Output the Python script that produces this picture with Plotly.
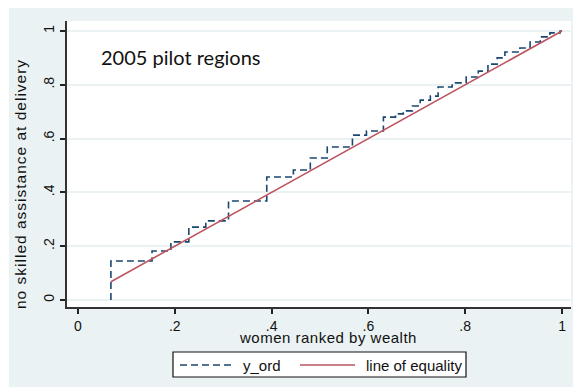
import plotly.graph_objects as go

# Concentration curve: cumulative share of women with no skilled assistance,
# women ranked by wealth (step points where the curve rises)
rank = [0.068, 0.068, 0.153, 0.192, 0.229, 0.264, 0.311, 0.390, 0.445, 0.480,
        0.515, 0.567, 0.596, 0.631, 0.656, 0.672, 0.691, 0.707, 0.728, 0.744,
        0.773, 0.802, 0.827, 0.847, 0.866, 0.882, 0.913, 0.934, 0.955, 0.975,
        0.996, 1.000]
y_ord = [0.000, 0.145, 0.182, 0.216, 0.271, 0.294, 0.368, 0.457, 0.483, 0.528,
         0.569, 0.613, 0.628, 0.680, 0.692, 0.703, 0.721, 0.743, 0.758, 0.792,
         0.807, 0.829, 0.851, 0.877, 0.900, 0.922, 0.937, 0.959, 0.978, 0.993,
         1.000, 1.000]

equality_x = [0.068, 1.0]
equality_y = [0.068, 1.0]

tick_vals = [0, 0.2, 0.4, 0.6, 0.8, 1]
tick_text = ["0", ".2", ".4", ".6", ".8", "1"]

series_names = ["y_ord", "line of equality"]

W, H = 573, 389
L, R, T, B = 67, 2, 21, 82
pw, ph = W - L - R, H - T - B

def px_to_paper_x(px):
    return (px - L) / pw

def px_to_paper_y(py):
    return (H - B - py) / ph

def spaced(text, px):
    return f'<span style="letter-spacing:{px}px">{text}</span>'

region = "#eaf2f3"
navy = "#1a476f"
maroon = "#bd5560"
dash_style = "7px,4px"
text_font = dict(family="Liberation Sans, Arial, sans-serif", size=15, color="#111111")
tick_font = dict(family="Liberation Sans, Arial, sans-serif", size=14, color="#111111")

fig = go.Figure()
fig.add_trace(go.Scatter(
    x=rank, y=y_ord, mode="lines", name=series_names[0],
    line=dict(shape="hv", color=navy, width=1.6, dash=dash_style),
))
fig.add_trace(go.Scatter(
    x=equality_x, y=equality_y, mode="lines", name=series_names[1],
    line=dict(color=maroon, width=1.6),
))

# legend box drawn as a key below the plot region
key_y = px_to_paper_y(365)
shapes = [
    # graph region background
    dict(type="rect", xref="paper", yref="paper", layer="below",
         x0=px_to_paper_x(9), x1=px_to_paper_x(573),
         y0=px_to_paper_y(387), y1=px_to_paper_y(8),
         fillcolor=region, line=dict(width=0)),
    # plot region
    dict(type="rect", xref="paper", yref="paper", layer="below",
         x0=0, x1=1, y0=0, y1=1,
         fillcolor="white", line=dict(width=0)),
    # key frame
    dict(type="rect", xref="paper", yref="paper",
         x0=px_to_paper_x(173), x1=px_to_paper_x(466),
         y0=px_to_paper_y(377), y1=px_to_paper_y(352),
         fillcolor="white", line=dict(color="#111111", width=1.2)),
    dict(type="line", xref="paper", yref="paper",
         x0=px_to_paper_x(180), x1=px_to_paper_x(234), y0=key_y, y1=key_y,
         line=dict(color=navy, width=1.6, dash=dash_style)),
    dict(type="line", xref="paper", yref="paper",
         x0=px_to_paper_x(300), x1=px_to_paper_x(355), y0=key_y, y1=key_y,
         line=dict(color=maroon, width=1.6)),
]

annotations = [
    dict(text="2005 pilot regions", xref="paper", yref="paper",
         x=px_to_paper_x(99), y=px_to_paper_y(57),
         xanchor="left", yanchor="middle", showarrow=False,
         font=dict(family="Lato, Open Sans, sans-serif", size=20, color="#111111")),
    dict(text=spaced("women ranked by wealth", 0.5), xref="paper", yref="paper",
         x=px_to_paper_x(328), y=px_to_paper_y(337),
         xanchor="center", yanchor="middle", showarrow=False,
         font=text_font),
    dict(text=spaced("no skilled assistance at delivery", 1), xref="paper", yref="paper",
         x=px_to_paper_x(20), y=px_to_paper_y(184),
         xanchor="center", yanchor="middle", showarrow=False, textangle=-90,
         font=dict(family="Liberation Sans, Arial, sans-serif", size=15.5, color="#111111")),
    dict(text=series_names[0], xref="paper", yref="paper",
         x=px_to_paper_x(241), y=key_y,
         xanchor="left", yanchor="middle", showarrow=False, font=text_font),
    dict(text=series_names[1], xref="paper", yref="paper",
         x=px_to_paper_x(364), y=key_y,
         xanchor="left", yanchor="middle", showarrow=False, font=text_font),
]

fig.update_layout(
    width=W, height=H,
    margin=dict(l=L, r=R, t=T, b=B),
    paper_bgcolor="white",
    plot_bgcolor="white",
    showlegend=False,
    shapes=shapes,
    annotations=annotations,
)

fig.update_xaxes(
    range=[-0.0227, (W - R - 77) / 485],
    tickvals=tick_vals, ticktext=tick_text,
    ticks="outside", ticklen=5, tickwidth=1.5, tickcolor="#222222",
    showline=True, linecolor="#333333", linewidth=2,
    showgrid=False, zeroline=False,
    tickfont=tick_font,
)
fig.update_yaxes(
    range=[(300 - (H - B)) / 269, (300 - T) / 269],
    tickvals=tick_vals, ticktext=tick_text, tickangle=-90,
    ticks="outside", ticklen=5, tickwidth=1.5, tickcolor="#222222",
    showline=True, linecolor="#333333", linewidth=2,
    showgrid=True, gridcolor=region, gridwidth=1.5,
    zeroline=False,
    tickfont=tick_font,
)

fig.write_html("out.html")
